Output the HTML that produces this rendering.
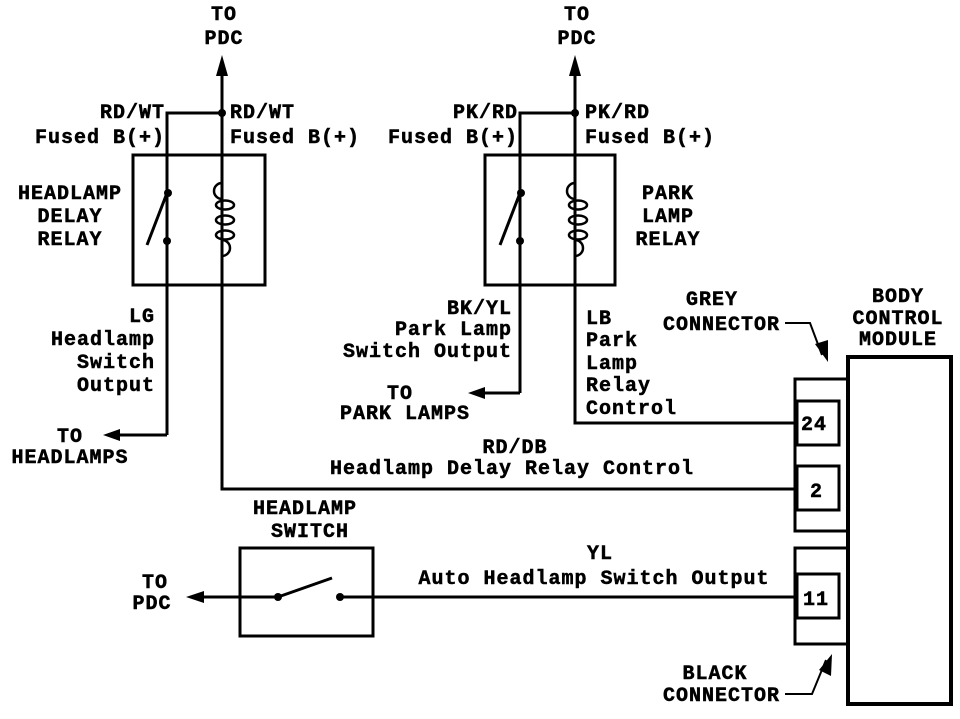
<!DOCTYPE html>
<html><head><meta charset="utf-8"><style>
html,body{margin:0;padding:0;background:#fff}
svg text{font-family:"Liberation Mono",monospace;font-weight:bold;font-size:20px;fill:#000;stroke:#000;stroke-width:0.5;letter-spacing:1px}
</style></head><body>
<svg width="960" height="714" viewBox="0 0 960 714" xmlns="http://www.w3.org/2000/svg">
<g fill="none" stroke="#000" stroke-width="3">
<rect x="133" y="155" width="132" height="130"/>
<polyline points="167,435 167,113 222,113"/>
<polyline points="222,72 222,489 797,489"/>
<line x1="167" y1="193" x2="147" y2="245"/>
<path d="M222,183 a8,8 0 0 0 0,16" stroke-width="2.5"/>
<path d="M222,240 a8,8 0 0 1 0,16" stroke-width="2.5"/>
<ellipse cx="225" cy="205" rx="9" ry="4.5" stroke-width="2.5"/>
<ellipse cx="225" cy="220" rx="9" ry="4.5" stroke-width="2.5"/>
<ellipse cx="225" cy="235" rx="9" ry="4.5" stroke-width="2.5"/>
<polyline points="167,435 115,435"/>
<rect x="485" y="155" width="130" height="130"/>
<polyline points="520,393 520,113 575,113"/>
<polyline points="575,72 575,423 797,423"/>
<line x1="520" y1="193" x2="500" y2="245"/>
<path d="M575,183 a8,8 0 0 0 0,16" stroke-width="2.5"/>
<path d="M575,240 a8,8 0 0 1 0,16" stroke-width="2.5"/>
<ellipse cx="578" cy="205" rx="9" ry="4.5" stroke-width="2.5"/>
<ellipse cx="578" cy="220" rx="9" ry="4.5" stroke-width="2.5"/>
<ellipse cx="578" cy="235" rx="9" ry="4.5" stroke-width="2.5"/>
<polyline points="520,393 480,393"/>
<rect x="240" y="548" width="133" height="88"/>
<line x1="200" y1="597" x2="278" y2="597"/>
<line x1="340" y1="597" x2="797" y2="597"/>
<line x1="278" y1="597" x2="332" y2="578"/>
<rect x="848" y="357" width="103" height="347" stroke-width="4"/>
<rect x="795" y="379" width="53" height="152"/>
<rect x="797" y="401" width="42" height="44"/>
<rect x="797" y="466" width="42" height="44"/>
<rect x="795" y="548" width="53" height="96"/>
<rect x="797" y="574" width="42" height="44"/>
<polyline points="785,323 810,323 822,355" stroke-width="2"/>
<polyline points="785,694 812,694 826,660" stroke-width="2"/>
</g>
<g fill="#000">
<polygon points="222,55 216,76 228,76"/>
<polygon points="575,55 569,76 581,76"/>
<polygon points="103,435 120,429 120,441"/>
<polygon points="468,393 485,387 485,399"/>
<polygon points="186,597 204,591 204,603"/>
<polygon points="828,362 815,344 828,340"/>
<polygon points="832,654 819,670 831,676"/>
<circle cx="222" cy="113" r="4"/><circle cx="575" cy="113" r="4"/>
<circle cx="168" cy="193" r="4"/><circle cx="167" cy="241" r="4"/>
<circle cx="521" cy="193" r="4"/><circle cx="520" cy="241" r="4"/>
<circle cx="278" cy="597" r="4"/><circle cx="340" cy="597" r="4"/>
</g>
<g text-anchor="middle">
<text x="224" y="20">TO</text><text x="224" y="44">PDC</text>
<text x="577" y="20">TO</text><text x="577" y="44">PDC</text>
<text x="70" y="199">HEADLAMP</text><text x="70" y="222">DELAY</text><text x="70" y="245">RELAY</text>
<text x="668" y="199">PARK</text><text x="668" y="222">LAMP</text><text x="668" y="245">RELAY</text>
<text x="712" y="305">GREY</text>
<text x="898" y="302">BODY</text><text x="898" y="324">CONTROL</text><text x="898" y="345">MODULE</text>
<text x="305" y="514">HEADLAMP</text><text x="310" y="537">SWITCH</text>
<text x="715" y="679">BLACK</text>
<text x="515" y="453">RD/DB</text>
<text x="512" y="474">Headlamp Delay Relay Control</text>
<text x="600" y="559">YL</text>
<text x="594" y="584">Auto Headlamp Switch Output</text>
<text x="70" y="442">TO</text><text x="70" y="463">HEADLAMPS</text>
<text x="155" y="588">TO</text><text x="152" y="609">PDC</text>
<text x="400" y="399">TO</text><text x="405" y="419">PARK LAMPS</text>
</g>
<g text-anchor="end">
<text x="165" y="118">RD/WT</text><text x="165" y="143">Fused B(+)</text>
<text x="518" y="118">PK/RD</text><text x="518" y="143">Fused B(+)</text>
<text x="155" y="322">LG</text><text x="155" y="345">Headlamp</text><text x="155" y="368">Switch</text><text x="155" y="391">Output</text>
<text x="512" y="314">BK/YL</text><text x="512" y="335">Park Lamp</text><text x="512" y="357">Switch Output</text>
<text x="780" y="330">CONNECTOR</text>
<text x="780" y="701">CONNECTOR</text>
</g>
<g>
<text x="230" y="118">RD/WT</text><text x="230" y="143">Fused B(+)</text>
<text x="585" y="118">PK/RD</text><text x="585" y="143">Fused B(+)</text>
<text x="586" y="324">LB</text><text x="586" y="346">Park</text><text x="586" y="369">Lamp</text><text x="586" y="391">Relay</text><text x="586" y="414">Control</text>
<text x="801" y="430" font-size="18">24</text>
<text x="810" y="497" font-size="18">2</text>
<text x="803" y="605" font-size="18">11</text>
</g>
</svg>
</body></html>
